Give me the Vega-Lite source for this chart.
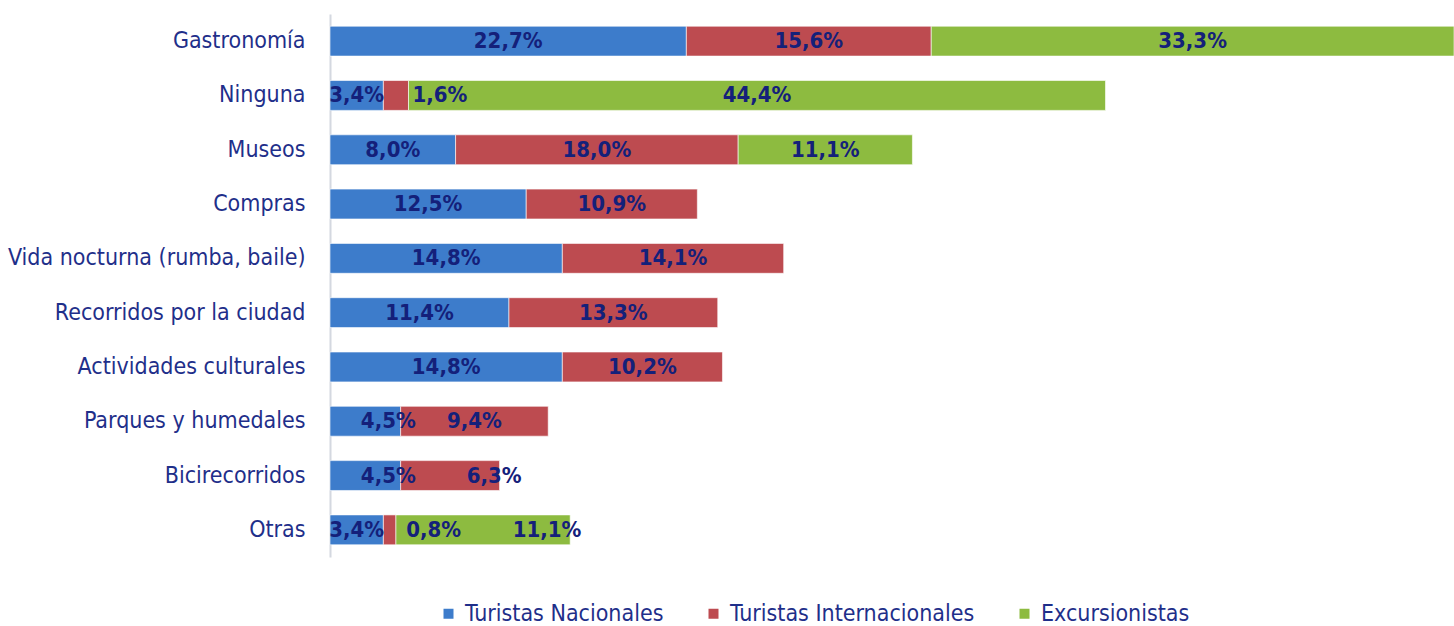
{
  "$schema": "https://vega.github.io/schema/vega-lite/v6.json",
  "width": 1124,
  "height": 543,
  "autosize": {"type": "none"},
  "padding": {"left": 330, "top": 14, "right": 0, "bottom": 69},
  "background": "white",
  "config": {
    "locale": {"number": {"decimal": ",", "thousands": ".", "grouping": [3], "currency": ["", " €"]}},
    "view": {"stroke": null},
    "font": "DejaVu Sans Condensed, Liberation Sans, sans-serif"
  },
  "data": {
    "values": [
      {"cat": "Gastronomía", "serie": "Turistas Nacionales", "v": 0.227},
      {"cat": "Gastronomía", "serie": "Turistas Internacionales", "v": 0.156},
      {"cat": "Gastronomía", "serie": "Excursionistas", "v": 0.333},
      {"cat": "Ninguna", "serie": "Turistas Nacionales", "v": 0.034},
      {"cat": "Ninguna", "serie": "Turistas Internacionales", "v": 0.016},
      {"cat": "Ninguna", "serie": "Excursionistas", "v": 0.444},
      {"cat": "Museos", "serie": "Turistas Nacionales", "v": 0.080},
      {"cat": "Museos", "serie": "Turistas Internacionales", "v": 0.180},
      {"cat": "Museos", "serie": "Excursionistas", "v": 0.111},
      {"cat": "Compras", "serie": "Turistas Nacionales", "v": 0.125},
      {"cat": "Compras", "serie": "Turistas Internacionales", "v": 0.109},
      {"cat": "Vida nocturna (rumba, baile)", "serie": "Turistas Nacionales", "v": 0.148},
      {"cat": "Vida nocturna (rumba, baile)", "serie": "Turistas Internacionales", "v": 0.141},
      {"cat": "Recorridos por la ciudad", "serie": "Turistas Nacionales", "v": 0.114},
      {"cat": "Recorridos por la ciudad", "serie": "Turistas Internacionales", "v": 0.133},
      {"cat": "Actividades culturales", "serie": "Turistas Nacionales", "v": 0.148},
      {"cat": "Actividades culturales", "serie": "Turistas Internacionales", "v": 0.102},
      {"cat": "Parques y humedales", "serie": "Turistas Nacionales", "v": 0.045},
      {"cat": "Parques y humedales", "serie": "Turistas Internacionales", "v": 0.094},
      {"cat": "Bicirecorridos", "serie": "Turistas Nacionales", "v": 0.045},
      {"cat": "Bicirecorridos", "serie": "Turistas Internacionales", "v": 0.063},
      {"cat": "Otras", "serie": "Turistas Nacionales", "v": 0.034},
      {"cat": "Otras", "serie": "Turistas Internacionales", "v": 0.008},
      {"cat": "Otras", "serie": "Excursionistas", "v": 0.111}
    ]
  },
  "transform": [
    {"calculate": "indexof(['Turistas Nacionales','Turistas Internacionales','Excursionistas'], datum.serie)", "as": "orden"},
    {"stack": "v", "groupby": ["cat"], "sort": [{"field": "orden", "order": "ascending"}], "as": ["x0", "x1"]},
    {"calculate": "(datum.x0 + datum.x1) / 2", "as": "mid"},
    {"calculate": "datum.cat + '|' + datum.serie", "as": "key"}
  ],
  "encoding": {
    "y": {
      "field": "cat",
      "type": "nominal",
      "sort": ["Gastronomía", "Ninguna", "Museos", "Compras", "Vida nocturna (rumba, baile)", "Recorridos por la ciudad", "Actividades culturales", "Parques y humedales", "Bicirecorridos", "Otras"],
      "scale": {"paddingInner": 0.45, "paddingOuter": 0.225},
      "axis": {
        "title": null,
        "domain": true,
        "domainColor": "#d4d8e0",
        "domainWidth": 2,
        "ticks": false,
        "labelPadding": 25,
        "labelFontSize": 23,
        "labelColor": "#1f2f8a",
        "labelLimit": 400
      }
    }
  },
  "layer": [
    {
      "mark": {"type": "bar", "stroke": "#ffffff", "strokeWidth": 1, "strokeOpacity": 0.6},
      "encoding": {
        "x": {"field": "x0", "type": "quantitative", "scale": {"domain": [0, 0.716], "nice": false, "zero": true}, "axis": null},
        "x2": {"field": "x1"},
        "color": {
          "field": "serie",
          "type": "nominal",
          "scale": {
            "domain": ["Turistas Nacionales", "Turistas Internacionales", "Excursionistas"],
            "range": ["#3d7ccb", "#bd4b50", "#8dbb40"]
          },
          "legend": {
            "title": null,
            "orient": "none",
            "direction": "horizontal",
            "legendX": 107,
            "legendY": 588,
            "symbolType": "square",
            "symbolSize": 100,
            "symbolStrokeWidth": 0,
            "labelFontSize": 23,
            "labelColor": "#1f2f8a",
            "labelOffset": 5,
            "columnPadding": 38,
            "labelLimit": 400
          }
        }
      }
    },
    {
      "transform": [{"filter": "indexof(['Ninguna|Turistas Internacionales','Bicirecorridos|Turistas Nacionales','Parques y humedales|Turistas Nacionales','Bicirecorridos|Turistas Internacionales','Otras|Turistas Internacionales','Otras|Excursionistas'], datum.key) < 0"}],
      "mark": {"type": "text", "fontWeight": "bold", "fontSize": 22, "color": "#14207a", "baseline": "middle", "align": "center"},
      "encoding": {
        "x": {"field": "mid", "type": "quantitative"},
        "text": {"field": "v", "type": "quantitative", "format": ".1%"}
      }
    },
    {
      "transform": [{"filter": "indexof(['Bicirecorridos|Turistas Nacionales','Parques y humedales|Turistas Nacionales'], datum.key) >= 0"}],
      "mark": {"type": "text", "fontWeight": "bold", "fontSize": 22, "color": "#14207a", "baseline": "middle", "align": "center", "dx": 23},
      "encoding": {
        "x": {"field": "mid", "type": "quantitative"},
        "text": {"field": "v", "type": "quantitative", "format": ".1%"}
      }
    },
    {
      "transform": [{"filter": "indexof(['Ninguna|Turistas Internacionales','Bicirecorridos|Turistas Internacionales','Otras|Turistas Internacionales'], datum.key) >= 0"}],
      "mark": {"type": "text", "fontWeight": "bold", "fontSize": 22, "color": "#14207a", "baseline": "middle", "align": "center", "dx": 44},
      "encoding": {
        "x": {"field": "mid", "type": "quantitative"},
        "text": {"field": "v", "type": "quantitative", "format": ".1%"}
      }
    },
    {
      "transform": [{"filter": "datum.key == 'Otras|Excursionistas'"}],
      "mark": {"type": "text", "fontWeight": "bold", "fontSize": 22, "color": "#14207a", "baseline": "middle", "align": "center", "dx": 64},
      "encoding": {
        "x": {"field": "mid", "type": "quantitative"},
        "text": {"field": "v", "type": "quantitative", "format": ".1%"}
      }
    }
  ]
}
